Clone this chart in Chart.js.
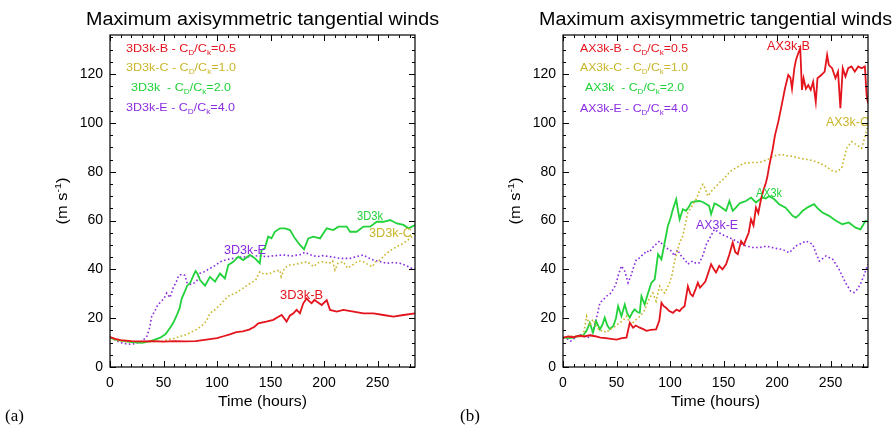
<!DOCTYPE html>
<html><head><meta charset="utf-8">
<script src="https://cdn.jsdelivr.net/npm/chart.js@4.4.0/dist/chart.umd.min.js"></script>
<style>
html,body{margin:0;padding:0;background:#fff;}
#wrap{position:relative;width:893px;height:425px;overflow:hidden;background:#fff;}
canvas{position:absolute;top:0;}
</style></head><body>
<div id="wrap">
<canvas id="cA" width="446" height="425" style="left:0px"></canvas>
<canvas id="cB" width="447" height="425" style="left:446px"></canvas>
</div>
<script>
// ---------------- data ----------------
const xTickVals = [0, 50, 100, 150, 200, 250];
const yTickVals = [0, 20, 40, 60, 80, 100, 120];
const X_MAX = 285, Y_MAX = 136;

// panel (a)
const a_B = [[0,12.3],[5,11.5],[10,11],[20,10.6],[30,10.5],[40,10.6],[50,10.4],[60,10.6],[70,10.5],[80,10.6],[90,11.2],[100,11.8],[106,12.6],[112,13.4],[118,14.3],[124,14.6],[130,15.3],[135,16.5],[138.6,17.9],[146,18.6],[152.6,19.3],[157,20.5],[160.4,21.3],[165,18.6],[168,21],[171.4,22],[174.4,23.4],[177.5,22],[180.6,26.1],[183.7,28.1],[186,27],[188.4,26.1],[191,27.5],[193.1,26.8],[197.8,25.4],[202.5,27.4],[205.6,23.4],[211.9,22.7],[218.1,23.4],[227.5,22.7],[236.8,22],[246.1,22],[255.5,21.3],[264.8,20.6],[274.3,21.3],[285,22]];
const a_C = [[0,12],[5,11],[10,10.6],[20,10.4],[30,10.3],[40,10.4],[50,10.6],[53,11.2],[58,11.5],[62,12],[67,12.7],[71.5,13.3],[76,14.3],[81,15.4],[86,17],[90,18.8],[93.4,22],[98,23.5],[102.8,25.4],[107,27.5],[112.2,29.5],[117,30.2],[121.5,31.5],[126,32.8],[130.7,34.2],[136,35.5],[140,39],[144,38],[149.4,38.3],[154,39.2],[158.8,39.7],[160,37],[163,40.5],[168.2,41.8],[173,42],[177.5,42.5],[183.7,43.1],[187,42.3],[190,41.1],[195,42.8],[199.3,43.1],[205,42.5],[208,43.5],[210.2,39.7],[213,42.5],[218,43.1],[222,40.5],[227.3,42],[232,43.5],[236.8,43.1],[241,42],[245,41],[248,43],[252.3,43.8],[258.5,46.6],[263,48],[268,49.3],[274.3,50.7],[280.5,52.7],[285,54.8]];
const a_K = [[0,12],[5,11.2],[10,10.8],[20,10.2],[30,9.9],[37,10.5],[42,11.2],[47,12],[52,13.5],[56,16],[59,18],[62,20.8],[65,24],[67,28],[70,31],[72,33.2],[75,34.5],[78,37.5],[80,39.3],[82,38],[84.1,35.6],[88.8,33.3],[93.4,36.9],[98.1,35],[102.8,38.3],[107.4,36.3],[110.5,41.8],[115.2,43.1],[119.9,45.2],[124.5,43.8],[130.7,45.9],[135.4,44.5],[140,42.5],[141.6,47.9],[144.7,48.6],[147.8,53.4],[150.9,52.7],[154,55.4],[158.8,56.8],[163.4,56.8],[168.2,56.1],[172.8,52.7],[177.5,50],[181.3,48.2],[185.3,52.7],[190,53.4],[196.3,52.7],[202.5,56.8],[208.7,56.1],[213.4,57.5],[221.2,57.5],[224.3,55.4],[230.5,55.4],[236.8,57.5],[243,57.5],[249.3,59.5],[255.5,59.5],[261.8,60.2],[268,58.8],[274.3,58.2],[279,56.8],[285,58.2]];
const a_E = [[0,12],[5,11],[10,10],[15,9.5],[20,9.3],[25,9.8],[30,10.5],[34.5,12.6],[37,16],[39,20.8],[42,23],[44,24.9],[46,26],[48,26.9],[51,28.5],[53,30.3],[56,28.4],[59,32.4],[62,35],[64,37.3],[66,37.8],[68,38],[70,37.5],[72,34.5],[74,34],[76,33.8],[79,34.5],[81,35.2],[84.1,38.4],[88,39],[93.4,40.4],[98,41.5],[102.8,43.1],[109,44],[115.2,44.5],[122,45],[130.7,45.2],[138,45.6],[146.3,45.2],[154,45.6],[161.9,45.9],[170,45.5],[177.5,46],[182.2,47],[187,46],[193.1,45.2],[199,45.6],[205.6,45.2],[214.9,44.5],[224.3,44.5],[230,45.2],[236.8,45.9],[241,44.8],[246.1,43.8],[252,43.2],[258.5,42.5],[265,42.8],[271,42.5],[277,41.5],[283.5,40.1],[285,40]];

// panel (b)
const b_B = [[0,12],[5,12.5],[10,12.2],[15,12.8],[20,12.5],[25,13],[30,12.6],[35,12],[40,11.8],[45,11.5],[50,11.2],[55,11.8],[59.3,12],[62.4,18.1],[65.5,16.1],[68,17],[71.7,16.1],[75,15.5],[78,14.8],[82,15.2],[87,15.4],[90,19],[92,26.3],[94,25],[96.5,24.2],[99,23],[102.7,22.2],[106,23.5],[109,22.9],[111,24],[113.6,24.9],[116.7,33.1],[119,30],[121.3,29],[124,32],[126,34.5],[128,32.5],[130.7,33.8],[133,35],[135.3,38],[138.4,42.1],[141,40],[143,38.7],[146,41.4],[149,40],[152.4,42.1],[155.5,46.2],[158.6,51],[161,47],[163.3,46.2],[166.4,51.6],[169,50],[171,52.3],[173.5,55],[175.7,60.5],[178,58],[180.3,65.3],[182.5,63],[185,68.7],[187,72],[189.6,75.5],[191,78],[192.7,82.4],[195.9,89.2],[198.1,95],[201.2,100.5],[204.3,107.2],[207.4,114.1],[210.5,119.6],[212.5,118.5],[214,114],[216.2,122.4],[217.7,125.8],[219.8,128.5],[221.7,130.6],[223.3,113.5],[224.8,118.3],[227,114],[229.2,115.5],[231.5,113.5],[233.7,116.8],[236.2,108.6],[237.8,118.3],[241.4,119.6],[244.5,121],[246.8,127.8],[248.4,123.7],[251.5,122.4],[254.6,118.3],[257,121],[259.2,106],[261.4,122.4],[263.9,119],[266.5,122.4],[269.6,123.1],[272.7,121],[275.9,123.1],[279,122.4],[282.1,123.1],[283.7,111.4],[285,108]];
const b_C = [[0,12],[5,12.5],[10,12.8],[15,12.3],[19,13],[22,20.8],[25,16.8],[28,19.5],[31,17],[34.5,14.8],[37,15],[40.6,14.1],[44,15.5],[47,16.1],[50,17.2],[53,18.1],[56,19],[59.3,20.8],[62,18.5],[64,17.5],[66,18.5],[68.6,19.5],[71,20.5],[74.8,22.2],[77,24],[79.5,27],[82,29],[84,30.3],[87,27],[90.3,33.1],[93,31],[95,30.3],[97,32],[99.6,34.5],[102,38],[104,42.7],[106.5,47],[109,51],[112,53.7],[114,58],[116.7,63.3],[119.8,65.3],[122,67],[124.4,68.7],[127.5,72.1],[130.7,74.8],[133,73],[135.3,70],[138,71.5],[140,72.8],[143,74],[146,75.5],[149,76.5],[152.4,78.2],[156,80],[162,81.7],[168.5,83.4],[177,83.8],[183.5,83.8],[190.3,84.8],[197,86.5],[204.3,87.1],[210,86.5],[215,86.3],[221.5,85.5],[228,85],[233.9,84.5],[240,83.5],[246.4,82],[251,80.5],[255.7,80],[260.4,81.4],[265,89.6],[269.7,92.3],[274.4,91],[279,89.6],[282,94],[285,99]];
const b_K = [[0,12],[5,11.8],[10,12],[15,12.8],[19,13],[22,14.8],[25,18.1],[28,14.1],[31,18.8],[34.5,15.4],[37,17.5],[39,20.2],[41.5,17],[43.8,15.5],[47,16.8],[49.5,20],[51.5,24.9],[54.6,20.8],[57.7,25.6],[60,22],[62.4,20.2],[65,22.5],[67,23.6],[69.5,22.5],[71.7,22.2],[73.3,29],[76.3,25.6],[79.5,30.3],[82.6,34.5],[85.7,35.9],[88.8,46.2],[92,44.1],[95,51],[98,57.8],[100.5,61],[102.7,64.6],[105.8,68.7],[107.5,64],[109,60.5],[112,64.6],[115,64],[117.5,65.5],[119.8,67.4],[123,67.8],[127.5,68],[131,67.5],[134,66.7],[136.5,66],[138.4,62.6],[141.5,67],[144,66.5],[146,66],[149,65],[152.4,64],[155.5,68],[158.6,64],[162,65.5],[164.8,67],[168,67.5],[171,68],[175.7,69.4],[180.3,67.4],[183.5,68.5],[186.5,69.4],[189.5,69],[192.7,70],[197.4,68.7],[202,66.7],[208,65.3],[214.5,61.9],[217.6,61.2],[221,62.5],[224,64],[229,65.5],[234.6,66.7],[238,65],[242.4,63.3],[248.6,61.9],[255,59.9],[261,58.5],[267,59.2],[273.4,57.1],[278,56.4],[282.7,59.9],[285,59.5]];
const b_E = [[0,12],[4,11.5],[7,10.6],[11,11.8],[15.8,13.3],[20,12.5],[25,12],[28,14.8],[31,19.5],[34.5,26.3],[37.5,27.5],[40.6,29],[44,30],[47,31.8],[49.5,34],[51.5,37.3],[54.6,41.4],[57.7,39.3],[60.8,34.5],[64,38],[66,41],[68.6,44.1],[71,44.5],[73.3,45.5],[76,46.5],[78,47.6],[80.5,47],[82.6,48.2],[85,49.5],[87,50.3],[90.3,51.6],[92.5,50.5],[95,49.6],[97.5,48.5],[99.6,48.2],[102,47],[104,45.5],[107,48],[109.5,46],[112,44.8],[114.5,43.5],[116.7,42.1],[119,43],[121.3,43.4],[124,42.5],[127.5,42.7],[131,46],[134,50.3],[138,53.5],[141.5,56.4],[146,55],[150,54],[155.5,53],[161.7,51.6],[166,50.5],[171,49.6],[177,49],[183.5,48.9],[190,49.5],[196,48.9],[200,48.5],[205,48.2],[211.4,46.8],[217.6,49.6],[222,50.5],[227,51.6],[233.3,50.3],[236,47],[239.5,43.4],[245.8,45.5],[252,44.1],[258,40],[264,34.5],[268.8,31.1],[272,30.5],[275,31.8],[278,34],[281,37.3],[285,42.1]];

// ---------------- styling ----------------
const FONT = "'Liberation Sans', Arial, Helvetica, sans-serif";
const SERIF = "'Liberation Serif', 'Times New Roman', serif";
const RED = '#e4141c', GOLD = '#c9b52a', GREEN = '#22d23a', PURPLE = '#8a2be0';

function drawSegs(c, segs, x, y, width, color, size, align) {
  c.save();
  c.fillStyle = color;
  c.textBaseline = 'alphabetic';
  let tot = 0;
  segs.forEach(s => {
    const fs = s.sub || s.sup ? size * 0.66 : size;
    c.font = fs + 'px ' + FONT;
    s._fs = fs; s._w = c.measureText(s.t).width; tot += s._w;
  });
  const sx = width ? width / tot : 1;
  const w = tot * sx;
  let x0 = x;
  if (align === 'center') x0 = x - w / 2;
  c.translate(x0, y);
  c.scale(sx, 1);
  let cx = 0;
  segs.forEach(s => {
    c.font = s._fs + 'px ' + FONT;
    const dy = s.sub ? size * 0.28 : (s.sup ? -size * 0.42 : 0);
    c.fillText(s.t, cx, dy);
    cx += s._w;
  });
  c.restore();
}

function legendSegs(name, ratio) {
  return [{t: name + ' - C'}, {t: 'D', sub: true}, {t: '/C'}, {t: 'k', sub: true}, {t: '=' + ratio}];
}

const decoPlugin = {
  id: 'deco',
  afterDatasetsDraw(chart) {
    const P = chart.options.plugins.deco;
    const c = chart.ctx, a = chart.chartArea, xs = chart.scales.x, ys = chart.scales.y;
    c.save();
    c.beginPath(); c.rect(a.left, a.top, a.right - a.left, a.bottom - a.top); c.clip();
    P.curveLabels.forEach(L => {
      drawSegs(c, [{t: L.text}], xs.getPixelForValue(L.t), ys.getPixelForValue(L.v) + 4.5, L.w, L.color, 12.5, 'left');
    });
    c.restore();
    P.legend.forEach(L => drawSegs(c, legendSegs(L.name, L.ratio), L.x, L.y + 4, L.w, L.color, 11.5, 'left'));
    c.save();
    c.strokeStyle = '#000'; c.lineWidth = 1.2;
    c.strokeRect(a.left, a.top, a.right - a.left, a.bottom - a.top);
    c.lineWidth = 1;
    c.beginPath();
    for (let v = 0; v <= X_MAX; v += 10) {
      const px = Math.round(xs.getPixelForValue(v)) + 0.5;
      const L = v % 50 === 0 ? 6 : 3;
      c.moveTo(px, a.bottom); c.lineTo(px, a.bottom - L);
      c.moveTo(px, a.top); c.lineTo(px, a.top + L);
    }
    for (let v = 0; v <= Y_MAX; v += 5) {
      const py = Math.round(ys.getPixelForValue(v)) + 0.5;
      const L = v % 20 === 0 ? 6 : 3;
      c.moveTo(a.left, py); c.lineTo(a.left + L, py);
      c.moveTo(a.right, py); c.lineTo(a.right - L, py);
    }
    c.stroke();
    c.restore();
    const cx = (a.left + a.right) / 2;
    drawSegs(c, [{t: 'Maximum axisymmetric tangential winds'}], cx, 25, 353, '#000', 18, 'center');
    drawSegs(c, [{t: 'Time (hours)'}], cx, 406, 89, '#000', 15, 'center');
    c.save();
    c.translate(a.left - 48 + 5, (a.top + a.bottom) / 2);
    c.rotate(-Math.PI / 2);
    drawSegs(c, [{t: '(m s'}, {t: '-1', sup: true}, {t: ')'}], 0, 0, 47, '#000', 15, 'center');
    c.restore();
    c.save();
    c.fillStyle = '#000'; c.font = '17px ' + SERIF; c.textBaseline = 'alphabetic';
    c.fillText(P.panel, P.panelX, 421);
    c.restore();
  }
};

function makeChart(id, series, axisW, padRight, deco) {
  return new Chart(document.getElementById(id), {
    type: 'line',
    data: {
      datasets: series.map(s => ({
        label: s.name,
        data: s.data.map(p => ({x: p[0], y: p[1]})),
        borderColor: s.color,
        borderWidth: s.dotted ? 1.6 : 1.8,
        borderDash: s.dotted ? [1.6, 2.4] : [],
        pointRadius: 0, tension: 0, fill: false
      }))
    },
    options: {
      responsive: false, animation: false, devicePixelRatio: 1,
      layout: {padding: {left: 0, right: padRight, top: 35, bottom: 0}},
      plugins: {legend: {display: false}, title: {display: false}, tooltip: {enabled: false}, deco: deco},
      scales: {
        x: {
          type: 'linear', min: 0, max: X_MAX,
          afterBuildTicks: s => { s.ticks = xTickVals.map(v => ({value: v})); },
          afterFit: s => { s.height = 58; },
          grid: {display: false, drawTicks: false}, border: {display: false},
          ticks: {padding: 8, color: '#000', font: {family: FONT, size: 14}, maxRotation: 0, autoSkip: false}
        },
        y: {
          type: 'linear', min: 0, max: Y_MAX,
          afterBuildTicks: s => { s.ticks = yTickVals.map(v => ({value: v})); },
          afterFit: s => { s.width = axisW; },
          grid: {display: false, drawTicks: false}, border: {display: false},
          ticks: {padding: 7, color: '#000', font: {family: FONT, size: 14}, autoSkip: false}
        }
      }
    },
    plugins: [decoPlugin]
  });
}

makeChart('cA', [
  {name: '3D3k-B', data: a_B, color: RED},
  {name: '3D3k-C', data: a_C, color: GOLD, dotted: true},
  {name: '3D3k', data: a_K, color: GREEN},
  {name: '3D3k-E', data: a_E, color: PURPLE, dotted: true}
], 110, 31, {
  panel: '(a)', panelX: 5,
  legend: [
    {name: '3D3k-B', ratio: '0.5', x: 126, y: 48, w: 110, color: RED},
    {name: '3D3k-C', ratio: '1.0', x: 126, y: 67, w: 110, color: GOLD},
    {name: '3D3k ', ratio: '2.0', x: 131, y: 87, w: 100, color: GREEN},
    {name: '3D3k-E', ratio: '4.0', x: 126, y: 107, w: 109, color: PURPLE}
  ],
  curveLabels: [
    {text: '3D3k', t: 230.8, v: 61.9, w: 26, color: GREEN},
    {text: '3D3k-C', t: 242, v: 54.9, w: 43, color: GOLD},
    {text: '3D3k-E', t: 106.5, v: 48.3, w: 42, color: PURPLE},
    {text: '3D3k-B', t: 158.9, v: 29.9, w: 43, color: RED}
  ]
});

makeChart('cB', [
  {name: 'AX3k-B', data: b_B, color: RED},
  {name: 'AX3k-C', data: b_C, color: GOLD, dotted: true},
  {name: 'AX3k', data: b_K, color: GREEN},
  {name: 'AX3k-E', data: b_E, color: PURPLE, dotted: true}
], 117, 25, {
  panel: '(b)', panelX: 14,
  legend: [
    {name: 'AX3k-B', ratio: '0.5', x: 134, y: 48, w: 108, color: RED},
    {name: 'AX3k-C', ratio: '1.0', x: 134, y: 67, w: 108, color: GOLD},
    {name: 'AX3k ', ratio: '2.0', x: 139, y: 87, w: 99, color: GREEN},
    {name: 'AX3k-E', ratio: '4.0', x: 134, y: 108, w: 108, color: PURPLE}
  ],
  curveLabels: [
    {text: 'AX3k-B', t: 190.6, v: 131.9, w: 43, color: RED},
    {text: 'AX3k-C', t: 245.7, v: 100.4, w: 43, color: GOLD},
    {text: 'AX3k', t: 180.3, v: 71.3, w: 26, color: GREEN},
    {text: 'AX3k-E', t: 124.3, v: 58.2, w: 42, color: PURPLE}
  ]
});
</script>
</body></html>
